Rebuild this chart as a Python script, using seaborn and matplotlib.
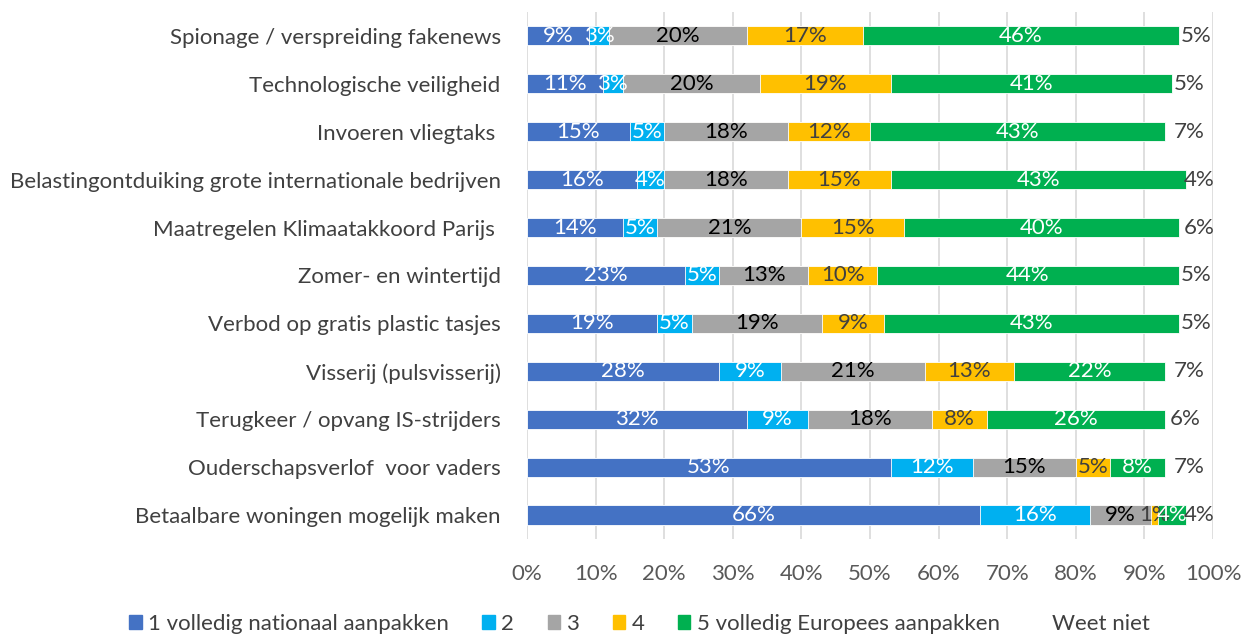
import numpy as np
import matplotlib.pyplot as plt
import matplotlib.patches as mpatches
import seaborn as sns

# Data (percentages)
categories = [
    "Spionage / verspreiding fakenews",
    "Technologische veiligheid",
    "Invoeren vliegtaks ",
    "Belastingontduiking grote internationale bedrijven",
    "Maatregelen Klimaatakkoord Parijs ",
    "Zomer- en wintertijd",
    "Verbod op gratis plastic tasjes",
    "Visserij (pulsvisserij)",
    "Terugkeer / opvang IS-strijders",
    "Ouderschapsverlof  voor vaders",
    "Betaalbare woningen mogelijk maken",
]
series_names = ["1 volledig nationaal aanpakken", "2", "3", "4",
                "5 volledig Europees aanpakken", "Weet niet"]
s1 = [9, 11, 15, 16, 14, 23, 19, 28, 32, 53, 66]
s2 = [3, 3, 5, 4, 5, 5, 5, 9, 9, 12, 16]
s3 = [20, 20, 18, 18, 21, 13, 19, 21, 18, 15, 9]
s4 = [17, 19, 12, 15, 15, 10, 9, 13, 8, 5, 1]
s5 = [46, 41, 43, 43, 40, 44, 43, 22, 26, 8, 4]
weet_niet = [5, 5, 7, 4, 6, 5, 5, 7, 6, 7, 4]
x_ticks = [0, 10, 20, 30, 40, 50, 60, 70, 80, 90, 100]

colors = ["#4472C4", "#00B0F0", "#A5A5A5", "#FFC000", "#00B050", "#FFFFFF"]
label_colors = ["white", "white", "black", "#404040", "white", "#404040"]

sns.set_style("white")
plt.rcParams['font.family'] = ['Lato', 'DejaVu Sans']

values = np.array([s1, s2, s3, s4, s5, weet_niet], dtype=float)
cum = np.cumsum(values, axis=0)

fig = plt.figure(figsize=(12.54, 6.35), dpi=100)
ax = fig.add_axes([0.4203, 0.1512, 0.547, 0.830])

# stacked bars: draw cumulative totals from back to front
for i in reversed(range(5)):
    sns.barplot(x=cum[i], y=categories, color=colors[i], saturation=1,
                width=0.4, orient='h', edgecolor='white', linewidth=0.6,
                ax=ax, zorder=2)

# segment labels
for i in range(6):
    for j, cat in enumerate(categories):
        center = cum[i, j] - values[i, j] / 2
        ax.text(center, j, f"{int(values[i, j])}%", ha='center', va='center',
                color=label_colors[i], fontsize=16, zorder=3)

ax.set_xlim(0, 100)
ax.set_ylim(len(categories) - 0.5, -0.5)
ax.set_xticks(x_ticks)
ax.set_xticklabels([f"{t}%" for t in x_ticks])
ax.xaxis.grid(True, color='#D9D9D9', linewidth=1.2, zorder=0)
ax.set_axisbelow(True)
ax.set_xlabel("")
ax.set_ylabel("")
for sp in ax.spines.values():
    sp.set_visible(False)
ax.tick_params(axis='x', labelsize=16, colors='#595959', pad=18, length=0)
ax.tick_params(axis='y', labelsize=16, colors='#404040', pad=19, length=0)

handles = [mpatches.Patch(color=c, label=n) for c, n in zip(colors, series_names)]
fig.legend(handles=handles, loc='lower center', bbox_to_anchor=(0.51, -0.03),
           ncol=6, frameon=False, fontsize=16, handlelength=0.55,
           handleheight=0.55, handletextpad=0.3, columnspacing=1.5,
           labelcolor='#404040')

fig.savefig("out.png", dpi=100)
plt.close(fig)
